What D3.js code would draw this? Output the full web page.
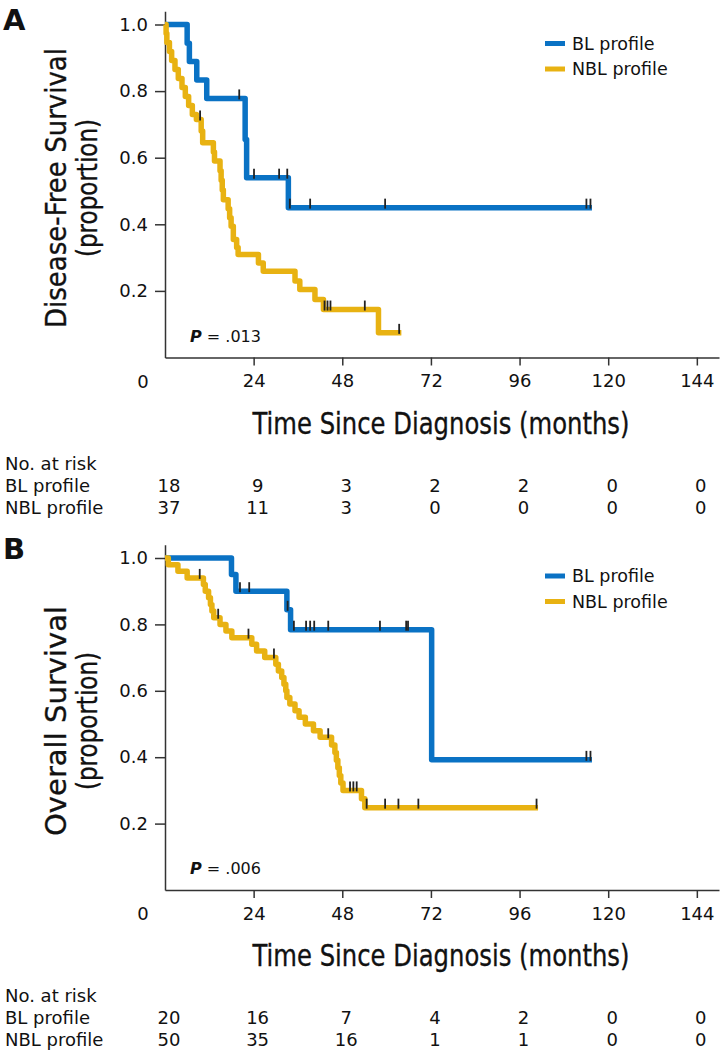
<!DOCTYPE html>
<html>
<head>
<meta charset="utf-8">
<script src="https://cdn.jsdelivr.net/npm/d3@7"></script>
<style>
  body { margin: 0; background: #fff; }
  svg text { font-family: "DejaVu Sans", sans-serif; fill: #111; }
  .axis path, .axis line { stroke: #333; stroke-width: 1.5; }
  .title { stroke: #111; stroke-width: 0.35; }
</style>
</head>
<body>
<svg width="724" height="1050"></svg>
<script>
// ticks and table columns
const timeTicks = [24, 48, 72, 96, 120, 144];
const riskTimes = [0, 24, 48, 72, 96, 120, 144];
const survTicks = [0.2, 0.4, 0.6, 0.8, 1.0];
const groups = ["BL profile", "NBL profile"];

// A: disease-free survival, [month, proportion after the drop]
const dfsBL = [[0, 1], [6.0, 0.944], [6.6, 0.889], [8.6, 0.833], [11.3, 0.778],
  [21.7, 0.655], [22.1, 0.54], [33.4, 0.45]];
const dfsBLCensor = [20.1, 24.1, 30.9, 33.1, 33.8, 39.3, 59.6, 114.1, 115.2];
const dfsBLEnd = 115.6;
const dfsNBL = [[0, 1], [0.3, 0.973], [0.5, 0.946], [1.2, 0.919], [1.8, 0.892], [2.7, 0.865],
  [3.6, 0.838], [4.6, 0.811], [5.5, 0.784], [6.4, 0.757], [7.4, 0.73], [8.5, 0.715],
  [9.8, 0.68], [10.2, 0.645], [13.1, 0.617], [13.4, 0.59], [14.9, 0.561], [15.2, 0.532],
  [15.5, 0.503], [15.8, 0.474], [17.1, 0.447], [17.5, 0.42], [17.9, 0.394], [18.5, 0.354],
  [19.4, 0.33], [19.8, 0.309], [25.3, 0.284], [26.6, 0.259], [35.2, 0.23], [36.5, 0.204],
  [40.6, 0.174], [42.9, 0.144], [57.8, 0.074]];
const dfsNBLCensor = [9.5, 43.2, 44.0, 44.8, 54.1, 63.4];
const dfsNBLEnd = 64;
const dfsRiskBL = [18, 9, 3, 2, 2, 0, 0];
const dfsRiskNBL = [37, 11, 3, 0, 0, 0, 0];

// B: overall survival
const osBL = [[0, 1], [18.0, 0.95], [19.2, 0.90], [33.0, 0.844], [34.0, 0.784], [72.2, 0.392]];
const osBLCensor = [20.3, 22.8, 33.2, 34.9, 38.2, 39.3, 40.4, 44.2, 58.2, 65.3, 65.8, 114.1, 115.2];
const osBLEnd = 115.6;
const osNBL = [[0, 1], [0.9, 0.98], [3.5, 0.96], [6.0, 0.94], [10.4, 0.92], [10.9, 0.9],
  [11.8, 0.88], [12.3, 0.86], [12.7, 0.84], [13.2, 0.82], [14.9, 0.8], [16.5, 0.78],
  [18.1, 0.76], [23.5, 0.74], [24.8, 0.72], [27.0, 0.70], [30.0, 0.68], [30.7, 0.66],
  [31.6, 0.64], [32.2, 0.62], [32.7, 0.6], [33.0, 0.58], [33.8, 0.56], [35.2, 0.54],
  [36.3, 0.52], [38.0, 0.5], [40.2, 0.48], [42.0, 0.46], [45.1, 0.437], [46.0, 0.414],
  [46.4, 0.391], [46.8, 0.368], [47.2, 0.345], [47.6, 0.322], [48.2, 0.30], [53.2, 0.275],
  [54.1, 0.248]];
const osNBLCensor = [9.4, 14.4, 22.6, 29.5, 44.2, 50.1, 51.0, 51.9, 54.6, 59.6, 63.2, 68.6, 100.6];
const osNBLEnd = 101;
const osRiskBL = [20, 16, 7, 4, 2, 0, 0];
const osRiskNBL = [50, 35, 16, 1, 1, 0, 0];

const blue = "#0a72c4", gold = "#e8b212";

const svg = d3.select("svg");

function level(steps, t) {
  let s = 1;
  steps.forEach(d => { if (d[0] <= t) s = d[1]; });
  return s;
}

function panel(p) {
  const g = svg.append("g");
  const x = d3.scaleLinear().domain([0, 150]).range([165, 719]);
  const y = d3.scaleLinear().domain([0, 1.04]).range([p.y0, p.y0 - 1.04 * p.h]);

  // axes
  g.append("g").attr("class", "axis")
    .attr("transform", "translate(0," + p.y0 + ")")
    .call(d3.axisBottom(x).tickValues(timeTicks).tickSize(8).tickPadding(9).tickSizeOuter(0))
    .selectAll("text").style("font-size", "18px");
  g.append("g").attr("class", "axis")
    .attr("transform", "translate(" + x(0) + ",0)")
    .call(d3.axisLeft(y).tickValues(survTicks).tickFormat(d3.format(".1f"))
      .tickSize(10).tickPadding(7).tickSizeOuter(0))
    .selectAll("text").style("font-size", "18px");
  g.selectAll(".axis text").attr("fill", "#111").style("font-family", "DejaVu Sans, sans-serif");
  g.append("text").attr("x", 143).attr("y", p.y0 + 30)
    .attr("text-anchor", "middle").style("font-size", "18px").text("0");

  // titles
  g.append("text").attr("x", 3).attr("y", p.y0 - p.h - 3 + p.labelDy)
    .style("font-weight", "bold").style("font-size", "29px").text(p.label);
  const cy = p.y0 - p.h / 2 - 3;
  g.append("text").attr("class", "title")
    .attr("transform", "translate(66," + cy + ") rotate(-90)")
    .attr("text-anchor", "middle").style("font-size", "29px")
    .attr("textLength", p.ytitleLen).attr("lengthAdjust", "spacingAndGlyphs")
    .text(p.ytitle);
  g.append("text").attr("class", "title")
    .attr("transform", "translate(97," + cy + ") rotate(-90)")
    .attr("text-anchor", "middle").style("font-size", "29px")
    .attr("textLength", 138).attr("lengthAdjust", "spacingAndGlyphs")
    .text("(proportion)");
  g.append("text").attr("class", "title")
    .attr("x", 441).attr("y", p.y0 + 76)
    .attr("text-anchor", "middle").style("font-size", "30px")
    .attr("textLength", 377).attr("lengthAdjust", "spacingAndGlyphs")
    .text("Time Since Diagnosis (months)");

  // curves
  const line = d3.line().x(d => x(d[0])).y(d => y(d[1])).curve(d3.curveStepAfter);
  p.series.forEach(s => {
    const pts = s.steps.concat([[s.end, s.steps[s.steps.length - 1][1]]]);
    g.append("path").datum(pts).attr("d", line)
      .attr("fill", "none").attr("stroke", s.color).attr("stroke-width", 5.5)
      .attr("stroke-linejoin", "round");
  });
  p.series.forEach(s => {
    g.selectAll(null).data(s.censor).enter().append("line")
      .attr("x1", d => x(d)).attr("x2", d => x(d))
      .attr("y1", d => y(level(s.steps, d)) - 9)
      .attr("y2", d => y(level(s.steps, d)) + 1)
      .attr("stroke", "#222").attr("stroke-width", 1.8);
  });

  // p value
  const pt = g.append("text").attr("x", 190).attr("y", p.y0 - 16).style("font-size", "16px");
  pt.append("tspan").style("font-style", "italic").style("font-weight", "bold").text("P");
  pt.append("tspan").text(" = " + p.pval);

  // legend
  const leg = g.selectAll(".leg").data(p.series).enter().append("g")
    .attr("transform", (d, i) => "translate(545," + (p.y0 - 314 + i * 25.5) + ")");
  leg.append("line").attr("x1", 0).attr("x2", 20)
    .attr("stroke", d => d.color).attr("stroke-width", 5);
  leg.append("text").attr("x", 27).attr("y", 6).style("font-size", "17.5px")
    .text(d => d.name);

  // number at risk
  g.append("text").attr("x", 5).attr("y", p.y0 + 112).style("font-size", "18px").text("No. at risk");
  p.series.forEach((s, i) => {
    const ry = p.y0 + 134 + i * 22;
    g.append("text").attr("x", 5).attr("y", ry).style("font-size", "18px").text(s.name);
    g.selectAll(null).data(s.risk).enter().append("text")
      .attr("x", (d, j) => x(riskTimes[j]) + 4).attr("y", ry)
      .attr("text-anchor", "middle").style("font-size", "18px").text(d => d);
  });
}

panel({
  label: "A", labelDy: 8, y0: 357.5, h: 333, ytitle: "Disease-Free Survival", ytitleLen: 280, pval: ".013",
  series: [
    { name: groups[0], color: blue, steps: dfsBL, censor: dfsBLCensor, end: dfsBLEnd, risk: dfsRiskBL },
    { name: groups[1], color: gold, steps: dfsNBL, censor: dfsNBLCensor, end: dfsNBLEnd, risk: dfsRiskNBL }
  ]
});
panel({
  label: "B", labelDy: 4, y0: 890, h: 332, ytitle: "Overall Survival", ytitleLen: 230, pval: ".006",
  series: [
    { name: groups[0], color: blue, steps: osBL, censor: osBLCensor, end: osBLEnd, risk: osRiskBL },
    { name: groups[1], color: gold, steps: osNBL, censor: osNBLCensor, end: osNBLEnd, risk: osRiskNBL }
  ]
});
</script>
</body>
</html>
